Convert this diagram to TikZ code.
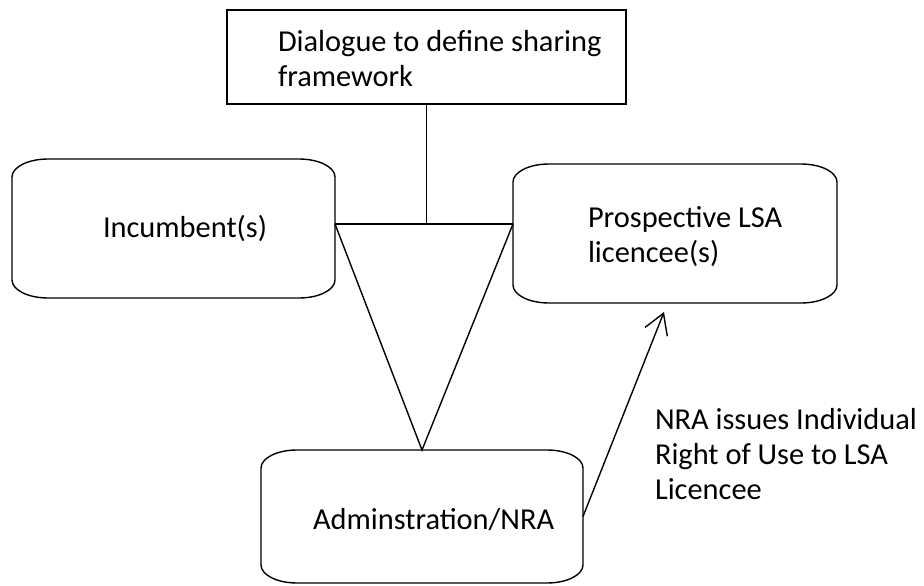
\documentclass[tikz,border=0pt]{standalone}
\usepackage{fontspec}
\setmainfont{Carlito}
\usetikzlibrary{calc,arrows.meta}

% Rectangle with elliptical corners drawn around a named node
\newcommand\softframe[1]{%
  \draw[link] ($(#1.north west)+(36pt,0pt)$) -- ($(#1.north east)+(-36pt,0pt)$)
    arc[start angle=90,end angle=0,x radius=36pt,y radius=18pt]
    -- ($(#1.south east)+(0pt,18pt)$)
    arc[start angle=0,end angle=-90,x radius=36pt,y radius=18pt]
    -- ($(#1.south west)+(36pt,0pt)$)
    arc[start angle=270,end angle=180,x radius=36pt,y radius=18pt]
    -- ($(#1.north west)+(0pt,-18pt)$)
    arc[start angle=180,end angle=90,x radius=36pt,y radius=18pt]
    -- cycle;}

\begin{document}
\begin{tikzpicture}[x=1pt,y=-1pt,
  link/.style={line width=1.4pt,draw=black},
  box/.style={inner sep=0pt,outer sep=0pt},
  txt/.style={font=\fontsize{30.4}{35}\selectfont,inner sep=0pt,outer sep=0pt,
              align=left,anchor=base west,text=black}]
\useasboundingbox (0,0) rectangle (924,586);

% boxes
\node[box,link,draw,minimum width=399pt,minimum height=94pt] (top) at (426.5,57) {};
\node[box,minimum width=323pt,minimum height=139pt] (inc) at (173.5,228.5) {};
\node[box,minimum width=324pt,minimum height=139pt] (pro) at (675,233.5) {};
\node[box,minimum width=322pt,minimum height=133pt] (adm) at (422,516.5) {};
\softframe{inc}
\softframe{pro}
\softframe{adm}

% texts (a multi-line node sits on the baseline of its last line)
\node[txt] (top-t) at (278,86) {Dialogue to define sharing\\framework};
\node[txt] (inc-t) at (103,237) {Incumbent(s)};
\node[txt] (pro-t) at (588,262) {Prospective LSA\\licencee(s)};
\node[txt] (adm-t) at (313,529) {Adminstration/NRA};
\node[txt] (rou) at (655,499) {NRA issues Individual\\Right of Use to LSA\\Licencee};

% connectors
\coordinate (j) at (top.south |- 0,224);
\draw[link] (top.south) -- (j);
\draw[link] (inc.east |- j) -- (pro.west |- j);
\draw[link] (inc.east |- j) -- (adm.north) -- (pro.west |- j);
\coordinate (tip) at ($(pro.south)+(-11pt,-9pt)$);
\draw[link,-{Straight Barb[length=20pt,width=24pt]}] (adm.east) -- (tip);
\end{tikzpicture}
\end{document}
